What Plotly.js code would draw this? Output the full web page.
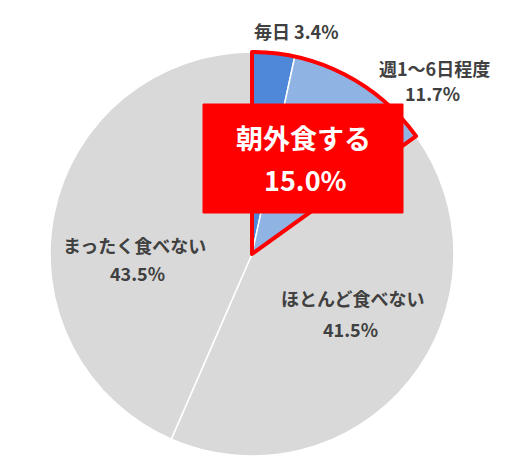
<!DOCTYPE html>
<html>
<head>
<meta charset="utf-8">
<script src="https://cdn.plot.ly/plotly-3.0.1.min.js"></script>
<style>html,body{margin:0;padding:0;background:#fff;}#chart{width:530px;height:468px;}</style>
</head>
<body>
<div id="chart"></div>
<script>
const categories = ["毎日", "週1〜6日程度", "ほとんど食べない", "まったく食べない"];
const values = [3.4, 11.7, 41.5, 43.5];
const sliceColors = ["#4f88d8", "#8fb4e3", "#d9d9d9", "#d9d9d9"];
const calloutTitle = "朝外食する";
const calloutValue = "15.0%";

const W = 530, H = 468;
const cx = 252, cy = 254, r = 202;
const dom = {x: [(cx - r) / W, (cx + r) / W], y: [1 - (cy + r) / H, 1 - (cy - r) / H]};

const eatOut = values[0] + values[1];
const rest = values.slice(2).reduce((a, b) => a + b, 0);

const pie = {
  type: "pie", values: values, labels: categories, sort: false, direction: "clockwise",
  rotation: 0, domain: dom, textinfo: "none", hoverinfo: "none", showlegend: false,
  marker: {colors: sliceColors, line: {color: "#ffffff", width: 1.5}}
};
const outline = {
  type: "pie", values: [eatOut, rest], labels: ["a", "b"], sort: false, direction: "clockwise",
  rotation: 0, domain: dom, textinfo: "none", hoverinfo: "none", showlegend: false,
  marker: {colors: ["rgba(0,0,0,0)", "rgba(0,0,0,0)"], line: {color: ["#ff0000", "rgba(0,0,0,0)"], width: [4, 0]}}
};

const px = (x) => x / W, py = (y) => 1 - y / H;
const lf = {family: "Noto Sans CJK JP, sans-serif", size: 18, color: "#404040", weight: "bold"};
const wf = {family: "Noto Sans CJK JP, sans-serif", size: 27, color: "#ffffff", weight: "bold"};
function ann(text, x, y, font) {
  return {text: text, x: px(x), y: py(y), xref: "paper", yref: "paper", xanchor: "center", yanchor: "middle", showarrow: false, font: font};
}

const layout = {
  width: W, height: H, margin: {l: 0, r: 0, t: 0, b: 0},
  paper_bgcolor: "#ffffff", plot_bgcolor: "#ffffff",
  shapes: [{type: "rect", xref: "paper", yref: "paper", x0: px(203), x1: px(403), y0: py(213), y1: py(104),
    fillcolor: "#ff0000", line: {color: "#ff0000", width: 1}, layer: "above"}],
  annotations: [
    ann(categories[0] + " " + values[0] + "%", 296, 31, lf),
    ann(categories[1], 434, 68, lf),
    ann(values[1] + "%", 432, 93, lf),
    ann(categories[2], 352, 298, lf),
    ann(values[2] + "%", 350, 329, lf),
    ann(categories[3], 134, 245, lf),
    ann(values[3] + "%", 137, 273, lf),
    ann(calloutTitle, 303, 137, wf),
    ann(calloutValue, 305, 180, wf)
  ]
};
Plotly.newPlot("chart", [pie, outline], layout, {displayModeBar: false, staticPlot: true});
</script>
</body>
</html>
